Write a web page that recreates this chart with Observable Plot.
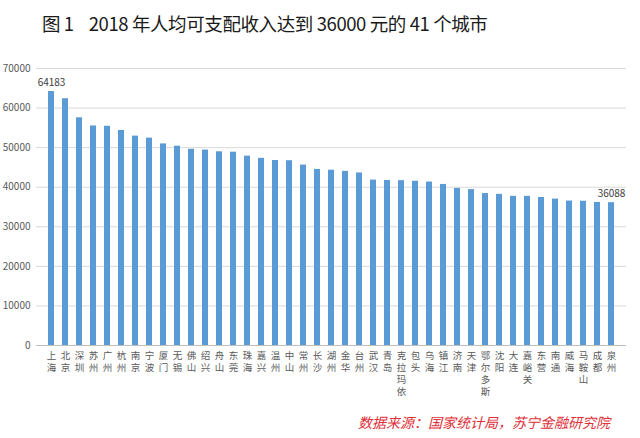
<!DOCTYPE html>
<html><head><meta charset="utf-8">
<script src="https://cdn.jsdelivr.net/npm/d3@7"></script>
<script src="https://cdn.jsdelivr.net/npm/@observablehq/plot@0.6"></script>
<style>
body{margin:0;background:#fff;width:640px;height:438px;overflow:hidden;font-family:"Noto Sans CJK SC",sans-serif}
#title{height:44px;line-height:46px;padding-left:42px;font-size:18.5px;color:#1a1a1a;white-space:pre;letter-spacing:-0.4px}
#chart{height:364px}
#src{height:30px;line-height:28px;text-align:right;padding-right:30px;font-size:14px;color:#e0303a;font-style:italic}
</style></head><body>
<div id="title">图 1&nbsp;&nbsp;&nbsp;&nbsp;2018 年人均可支配收入达到 36000 元的 41 个城市</div>
<div id="chart"></div>
<div id="src">数据来源：国家统计局，苏宁金融研究院</div>
<script>
const cities = ["上海","北京","深圳","苏州","广州","杭州","南京","宁波","厦门","无锡",
  "佛山","绍兴","舟山","东莞","珠海","嘉兴","温州","中山","常州","长沙",
  "湖州","金华","台州","武汉","青岛","克拉玛依","包头","乌海","镇江","济南",
  "天津","鄂尔多斯","沈阳","大连","嘉峪关","东营","南通","威海","马鞍山","成都","泉州"];
const incomes = [64183,62361,57543,55476,55400,54348,52916,52402,50948,50373,
  49582,49389,48950,48850,47850,47300,46750,46700,45600,44500,
  44300,44000,43600,41800,41700,41650,41500,41300,40700,39700,
  39400,38400,38200,37700,37700,37400,37000,36500,36450,36150,36088];
const yTicks = [0,10000,20000,30000,40000,50000,60000,70000];

const data = cities.map((c, i) => ({city: c, income: incomes[i]}));
const labeled = [data[0], data[data.length - 1]];
// vertical city labels: one entry per character
const chars = cities.flatMap(c => [...c].map((ch, k) => ({city: c, ch, k})));

const chart = Plot.plot({
  width: 640, height: 364,
  marginTop: 24, marginBottom: 63, marginLeft: 36, marginRight: 14,
  style: {fontFamily: '"Noto Sans CJK SC", sans-serif', fontSize: "10px", color: "#595959", background: "#fff"},
  x: {domain: cities, padding: 0.58, label: null, axis: null},
  y: {domain: [0, 70000], label: null},
  marks: [
    Plot.gridY(yTicks, {stroke: "#d9d9d9", strokeOpacity: 1}),
    Plot.ruleY([0], {stroke: "#bfbfbf"}),
    Plot.barY(data, {x: "city", y: "income", fill: "#5b9bd5"}),
    Plot.text(labeled, {x: "city", y: "income", text: d => String(d.income), lineAnchor: "bottom", dy: -6, fill: "#404040", fontSize: 10}),
    Plot.axisY(yTicks, {tickSize: 0, tickPadding: 6, tickFormat: d => String(d), label: null}),
    ...[0, 1, 2, 3].map(k => Plot.text(chars.filter(d => d.k === k), {
      x: "city", text: "ch", frameAnchor: "bottom", lineAnchor: "top",
      dy: 7 + k * 12, fontSize: 9.5, fill: "#595959"
    }))
  ]
});
document.getElementById("chart").appendChild(chart);
</script>
</body></html>
